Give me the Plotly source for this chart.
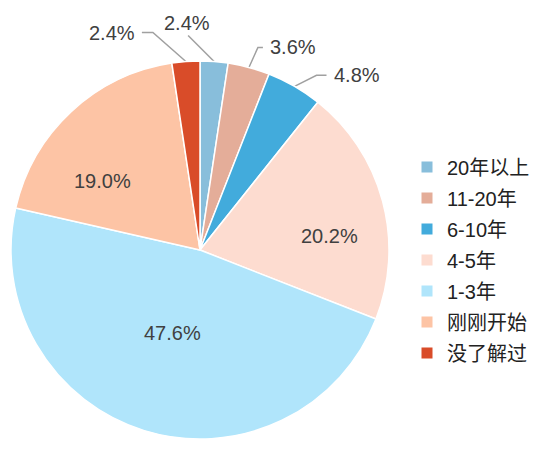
import math
import plotly.graph_objects as go

labels = ['20年以上', '11-20年', '6-10年', '4-5年', '1-3年', '刚刚开始', '没了解过']
counts = [2, 3, 4, 17, 40, 16, 2]
colors = ['#88bedb', '#e4ad99', '#42abdc', '#fddcd0', '#b0e5fb', '#fdc4a5', '#d94c29']

W, H = 553, 455
PAD = 8  # page body margin
cx, cy, R = 200 - PAD, 250 - PAD, 189
FONT = 'Helvetica Neue, Liberation Sans, Noto Sans CJK SC, sans-serif'

total = sum(counts)
pct = [c / total for c in counts]
pct_text = [f'{p * 100:.1f}%' for p in pct]

# inside labels: (angle shift in degrees, radius fraction)
inside = {3: (9, 0.69), 4: (1, 0.46), 5: (-12, 0.63)}
# leader lines for the small slices: elbow offset from slice edge, tail length, text side
leaders = {
    0: ((-26, -26), 0, 'top'),
    1: ((9, -20), 5, 'right'),
    2: ((22, -11), 10, 'right'),
    6: ((-33, -29), -11, 'left'),
}

fig = go.Figure()
fig.add_trace(go.Pie(
    labels=labels, values=counts, sort=False, direction='clockwise', rotation=0,
    marker=dict(colors=colors, line=dict(color='white', width=1.5)),
    textinfo='none',
    domain=dict(x=[(cx - R) / W, (cx + R) / W], y=[1 - (cy + R) / H, 1 - (cy - R) / H]),
    showlegend=False, hoverinfo='label+percent',
))

# fake legend so the item spacing can match
for lab, col in zip(labels, colors):
    fig.add_trace(go.Scatter(
        x=[None], y=[None], mode='markers', name=lab, legendgroup=lab,
        marker=dict(symbol='square', size=11, color=col),
    ))

cum = 0
for i, c in enumerate(counts):
    mid = (cum + c / 2) / total * 2 * math.pi
    cum += c
    if i in inside:
        da, fr = inside[i]
        a = mid + math.radians(da)
        fig.add_annotation(x=cx + fr * R * math.sin(a), y=cy - fr * R * math.cos(a),
                           text=pct_text[i], xanchor='center', yanchor='middle')
        continue
    if i not in leaders:
        continue
    (dx, dy), tail, side = leaders[i]
    ax, ay = cx + R * math.sin(mid), cy - R * math.cos(mid)
    bx, by = ax + dx, ay + dy
    ex = bx + tail
    fig.add_trace(go.Scatter(
        x=[ax, bx, ex], y=[ay, by, by], mode='lines',
        line=dict(color='#a0a0a0', width=1.5), showlegend=False, hoverinfo='skip',
    ))
    if side == 'top':
        fig.add_annotation(x=bx - 1, y=by, text=pct_text[i], xanchor='center', yanchor='bottom')
    elif side == 'right':
        fig.add_annotation(x=ex + 5, y=by, text=pct_text[i], xanchor='left', yanchor='middle')
    else:
        fig.add_annotation(x=ex - 5, y=by, text=pct_text[i], xanchor='right', yanchor='middle')

fig.update_annotations(showarrow=False, font=dict(size=20, color='#404040', family=FONT))

fig.update_layout(
    width=W, height=H,
    margin=dict(l=0, r=0, t=0, b=0),
    paper_bgcolor='white', plot_bgcolor='rgba(0,0,0,0)',
    xaxis=dict(range=[0, W], visible=False, fixedrange=True),
    yaxis=dict(range=[H, 0], visible=False, fixedrange=True),
    legend=dict(
        x=(407 - PAD) / W, y=1 - (260 - PAD) / H, xanchor='left', yanchor='middle',
        traceorder='grouped', tracegroupgap=2,
        font=dict(size=20, color='#222222', family=FONT),
        itemclick=False,
    ),
)

fig.write_html('out.html')
